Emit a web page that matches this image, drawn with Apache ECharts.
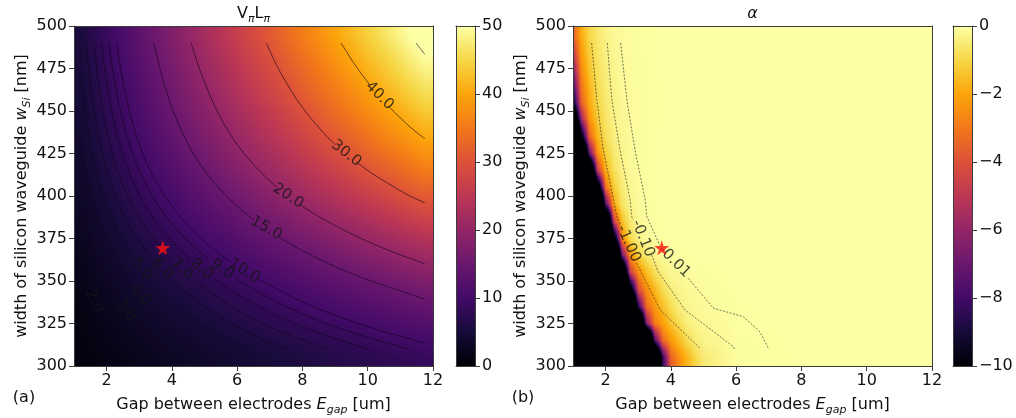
<!DOCTYPE html>
<html>
<head>
<meta charset="utf-8">
<title>VpiLpi and alpha maps</title>
<script src="https://cdn.jsdelivr.net/npm/echarts@6/dist/echarts.min.js"></script>
<style>
  html, body { margin: 0; padding: 0; background: #fff; }
  #chart { width: 1016px; height: 418px; }
</style>
</head>
<body>
<div id="chart"></div>
<script>
// electrode gap [um] where each colour row is sampled (left map)
const vlGap = [1.25, 1.75, 2.25, 2.75, 3.25, 3.75, 4.25, 4.75, 5.25, 5.75, 6.25, 6.75,
  7.25, 7.75, 8.25, 8.75, 9.25, 9.75, 10.25, 10.75, 11.25, 11.75];
// silicon width [nm], centre of each colour row
const rowWidth = [305, 315, 325, 335, 345, 355, 365, 375, 385, 395, 405, 415, 425, 435, 445, 455, 465, 475, 485, 495];

// VpiLpi, one row per width (305 nm first)
const vlRows = [
  [0.9, 1.3, 1.6, 2.0, 2.4, 2.7, 3.1, 3.5, 3.8, 4.2, 4.6, 4.9, 5.3, 5.7, 6.0, 6.4, 6.8, 7.1, 7.5, 7.8, 8.2, 8.6],
  [1.1, 1.5, 2.0, 2.4, 2.8, 3.3, 3.7, 4.1, 4.6, 5.0, 5.4, 5.9, 6.3, 6.7, 7.2, 7.6, 8.0, 8.5, 8.9, 9.4, 9.8, 10.2],
  [1.3, 1.8, 2.3, 2.8, 3.3, 3.9, 4.4, 4.9, 5.4, 5.9, 6.4, 7.0, 7.5, 8.0, 8.5, 9.0, 9.5, 10.0, 10.6, 11.1, 11.6, 12.1],
  [1.5, 2.1, 2.7, 3.3, 3.9, 4.5, 5.1, 5.7, 6.3, 6.9, 7.5, 8.1, 8.7, 9.3, 9.9, 10.5, 11.1, 11.7, 12.3, 12.9, 13.5, 14.1],
  [1.7, 2.4, 3.1, 3.8, 4.5, 5.2, 5.9, 6.6, 7.2, 7.9, 8.6, 9.3, 10.0, 10.7, 11.4, 12.1, 12.8, 13.5, 14.1, 14.8, 15.5, 16.2],
  [2.0, 2.8, 3.6, 4.4, 5.2, 6.0, 6.8, 7.6, 8.3, 9.1, 9.9, 10.7, 11.5, 12.3, 13.1, 13.9, 14.7, 15.5, 16.3, 17.1, 17.9, 18.7],
  [2.3, 3.2, 4.1, 5.0, 5.9, 6.8, 7.7, 8.6, 9.5, 10.4, 11.3, 12.2, 13.1, 14.0, 14.9, 15.8, 16.7, 17.6, 18.6, 19.5, 20.4, 21.3],
  [2.6, 3.6, 4.6, 5.6, 6.6, 7.7, 8.7, 9.7, 10.7, 11.7, 12.8, 13.8, 14.8, 15.8, 16.8, 17.9, 18.9, 19.9, 20.9, 21.9, 23.0, 24.0],
  [2.9, 4.0, 5.1, 6.3, 7.4, 8.6, 9.7, 10.8, 12.0, 13.1, 14.3, 15.4, 16.5, 17.7, 18.8, 20.0, 21.1, 22.2, 23.4, 24.5, 25.7, 26.8],
  [3.2, 4.4, 5.7, 7.0, 8.2, 9.5, 10.8, 12.0, 13.3, 14.5, 15.8, 17.1, 18.3, 19.6, 20.9, 22.1, 23.4, 24.7, 25.9, 27.2, 28.5, 29.7],
  [3.5, 4.8, 6.2, 7.6, 9.0, 10.4, 11.8, 13.2, 14.5, 15.9, 17.3, 18.7, 20.1, 21.5, 22.9, 24.2, 25.6, 27.0, 28.4, 29.8, 31.2, 32.5],
  [3.8, 5.3, 6.8, 8.3, 9.8, 11.3, 12.8, 14.3, 15.8, 17.3, 18.8, 20.3, 21.8, 23.3, 24.8, 26.3, 27.8, 29.3, 30.8, 32.3, 33.8, 35.3],
  [4.0, 5.6, 7.2, 8.9, 10.5, 12.1, 13.7, 15.3, 16.9, 18.5, 20.1, 21.7, 23.3, 25.0, 26.6, 28.2, 29.8, 31.4, 33.0, 34.6, 36.2, 37.8],
  [4.3, 6.0, 7.7, 9.4, 11.1, 12.9, 14.6, 16.3, 18.0, 19.7, 21.4, 23.2, 24.9, 26.6, 28.3, 30.0, 31.7, 33.4, 35.2, 36.9, 38.6, 40.3],
  [4.5, 6.3, 8.1, 10.0, 11.8, 13.6, 15.4, 17.2, 19.0, 20.8, 22.6, 24.4, 26.2, 28.1, 29.9, 31.7, 33.5, 35.3, 37.1, 38.9, 40.7, 42.5],
  [4.8, 6.7, 8.6, 10.5, 12.4, 14.3, 16.2, 18.1, 20.0, 21.9, 23.8, 25.7, 27.6, 29.5, 31.4, 33.3, 35.2, 37.1, 39.0, 40.9, 42.8, 44.7],
  [5.0, 6.9, 8.9, 10.9, 12.9, 14.9, 16.9, 18.9, 20.8, 22.8, 24.8, 26.8, 28.8, 30.8, 32.8, 34.7, 36.7, 38.7, 40.7, 42.7, 44.7, 46.6],
  [5.2, 7.2, 9.3, 11.4, 13.4, 15.5, 17.6, 19.6, 21.7, 23.7, 25.8, 27.9, 29.9, 32.0, 34.1, 36.1, 38.2, 40.3, 42.3, 44.4, 46.5, 48.5],
  [5.4, 7.5, 9.6, 11.8, 13.9, 16.1, 18.2, 20.3, 22.5, 24.6, 26.8, 28.9, 31.0, 33.2, 35.3, 37.5, 39.6, 41.7, 43.9, 46.0, 48.2, 50.3],
  [5.5, 7.8, 10.0, 12.2, 14.4, 16.6, 18.8, 21.0, 23.3, 25.5, 27.7, 29.9, 32.1, 34.3, 36.6, 38.8, 41.0, 43.2, 45.4, 47.6, 49.8, 52.1]
];

// electrode gap [um] where alpha is sampled (right map)
const alphaGap = [1.0, 1.25, 1.5, 1.75, 2.0, 2.25, 2.5, 2.75, 3.0, 3.25, 3.5, 3.75, 4.0, 4.25, 4.5, 4.75, 5.0, 6.0, 8.0, 12.0];
// alpha, one row per width (305 nm first)
const alphaRows = [
  [-40, -40, -40, -40, -40, -40, -40, -40, -40, -32, -20, -8.5, -3.6, -2.5, -1.7, -1.0, -0.5, -0.05, -0.01, 0],
  [-40, -40, -40, -40, -40, -40, -40, -40, -38, -24, -8.0, -3.4, -2.3, -1.6, -0.9, -0.45, -0.28, -0.04, -0.01, 0],
  [-40, -40, -40, -40, -40, -40, -40, -36, -21, -6.5, -3.0, -2.15, -1.4, -0.85, -0.42, -0.28, -0.18, -0.03, 0, 0],
  [-40, -40, -40, -40, -40, -40, -38, -23, -8.8, -3.4, -2.3, -1.5, -0.85, -0.42, -0.25, -0.16, -0.10, -0.02, 0, 0],
  [-40, -40, -40, -40, -40, -40, -29, -12.5, -4.2, -2.5, -1.7, -0.90, -0.45, -0.27, -0.16, -0.10, -0.06, -0.01, 0, 0],
  [-40, -40, -40, -40, -40, -36, -18, -4.8, -2.6, -1.6, -0.82, -0.40, -0.20, -0.12, -0.07, -0.04, -0.03, -0.01, 0, 0],
  [-40, -40, -40, -40, -40, -25, -7.4, -2.5, -1.2, -0.55, -0.25, -0.12, -0.06, -0.03, -0.02, -0.01, -0.01, 0, 0, 0],
  [-40, -40, -40, -40, -32, -12.3, -2.7, -0.93, -0.35, -0.13, -0.05, -0.03, -0.01, -0.01, -0.01, -0.01, -0.01, 0, 0, 0],
  [-40, -40, -40, -40, -21, -4.8, -1.5, -0.54, -0.19, -0.08, -0.03, -0.02, -0.01, -0.01, -0.01, -0.01, -0.01, 0, 0, 0],
  [-40, -40, -40, -26, -7.8, -2.0, -0.70, -0.27, -0.10, -0.04, -0.02, -0.01, -0.01, -0.01, -0.01, -0.01, -0.01, 0, 0, 0],
  [-40, -40, -31, -13.5, -3.2, -1.25, -0.50, -0.20, -0.09, -0.04, -0.02, -0.01, -0.01, -0.01, -0.01, -0.01, -0.01, 0, 0, 0],
  [-40, -34, -18, -5.0, -1.8, -0.78, -0.35, -0.14, -0.07, -0.03, -0.02, -0.01, -0.01, -0.01, -0.01, -0.01, -0.01, 0, 0, 0],
  [-36, -21, -7.5, -2.5, -1.2, -0.55, -0.27, -0.12, -0.06, -0.03, -0.02, -0.01, -0.01, -0.01, -0.01, -0.01, -0.01, 0, 0, 0],
  [-25, -11.1, -3.6, -1.7, -0.81, -0.40, -0.20, -0.11, -0.06, -0.03, -0.02, -0.01, -0.01, -0.01, -0.01, -0.01, -0.01, 0, 0, 0],
  [-16.5, -6.1, -2.5, -1.3, -0.66, -0.35, -0.17, -0.10, -0.06, -0.03, -0.02, -0.02, -0.01, -0.01, -0.01, -0.01, -0.01, 0, 0, 0],
  [-10, -3.7, -1.9, -1.0, -0.57, -0.32, -0.15, -0.10, -0.06, -0.03, -0.02, -0.02, -0.01, -0.01, -0.01, -0.01, -0.01, 0, 0, 0],
  [-8.0, -3.1, -1.7, -0.88, -0.49, -0.28, -0.14, -0.08, -0.05, -0.03, -0.02, -0.02, -0.01, -0.01, -0.01, -0.01, 0, 0, 0, 0],
  [-6.3, -2.6, -1.4, -0.76, -0.41, -0.24, -0.12, -0.07, -0.04, -0.03, -0.02, -0.01, -0.01, -0.01, -0.01, -0.01, 0, 0, 0, 0],
  [-4.9, -2.2, -1.2, -0.66, -0.36, -0.20, -0.11, -0.06, -0.04, -0.02, -0.02, -0.01, -0.01, -0.01, -0.01, -0.01, 0, 0, 0, 0],
  [-3.7, -1.9, -1.0, -0.57, -0.32, -0.15, -0.10, -0.06, -0.03, -0.02, -0.02, -0.01, -0.01, -0.01, -0.01, -0.01, 0, 0, 0, 0]
];

const gapTicks = [2, 4, 6, 8, 10, 12];
const designPoint = [3.72, 369.5];

// contour lines as [gap, width]; cut = where the inline label breaks the line
const cut = ['-', '-'];
const vlContours = [
  [[2.5, 310], [2.11, 320], [1.79, 330], cut, [1.43, 346], [1.35, 350], [1.25, 355]],
  [[3.75, 310], [3.16, 320], [2.91, 325], cut, [2.29, 341], [2.02, 350], [1.76, 360], [1.56, 370], [1.39, 380], [1.25, 390]],
  [[5.0, 310], [4.21, 320], [3.38, 334], cut, [2.69, 350], [2.35, 360], [2.08, 370], [1.85, 380], [1.66, 390], [1.51, 400], [1.39, 410], [1.25, 424]],
  [[6.25, 310], [5.26, 320], [4.48, 330], [3.88, 340], [3.42, 349], cut, [2.76, 365], [2.45, 375], [2.19, 385], [1.98, 395], [1.81, 405], [1.67, 415], [1.55, 425], [1.46, 435], [1.38, 445], [1.32, 455], [1.26, 465], [1.25, 467]],
  [[7.5, 310], [6.32, 320], [5.38, 330], [4.65, 340], [4.04, 350], cut, [3.36, 364], [2.94, 375], [2.63, 385], [2.37, 395], [2.17, 405], [2.0, 415], [1.86, 425], [1.75, 435], [1.66, 445], [1.58, 455], [1.51, 465], [1.45, 475], [1.40, 485], [1.38, 490]],
  [[8.75, 310], [7.37, 320], [6.28, 330], [5.43, 340], [4.71, 350], cut, [3.92, 364], [3.43, 375], [3.07, 385], [2.77, 395], [2.53, 405], [2.33, 415], [2.17, 425], [2.04, 435], [1.93, 445], [1.84, 455], [1.76, 465], [1.69, 475], [1.64, 485], [1.61, 490]],
  [[10.0, 310], [8.42, 320], [7.17, 330], [6.20, 340], [5.31, 351], cut, [4.53, 363], [3.92, 375], [3.51, 385], [3.16, 395], [2.89, 405], [2.67, 415], [2.48, 425], [2.33, 435], [2.21, 445], [2.11, 455], [2.02, 465], [1.94, 475], [1.87, 485], [1.84, 490]],
  [[11.25, 310], [9.47, 320], [8.07, 330], [6.98, 340], [5.98, 351], cut, [5.10, 363], [4.41, 375], [3.95, 385], [3.56, 395], [3.25, 405], [3.0, 415], [2.80, 425], [2.62, 435], [2.49, 445], [2.37, 455], [2.27, 465], [2.18, 475], [2.10, 485], [2.07, 490]],
  [[11.75, 313.6], [10.53, 320], [9.71, 325], [8.97, 330], [8.33, 335], [7.75, 340], [7.25, 345], [6.64, 351], cut, [5.81, 361], [5.19, 370], [4.63, 380], [4.16, 390], [3.78, 400], [3.47, 410], [3.21, 420], [3.01, 430], [2.84, 440], [2.70, 450], [2.58, 460], [2.47, 470], [2.38, 480], [2.30, 490]],
  [[11.75, 339.3], [10.87, 345], [10.10, 350], [9.43, 355], [8.82, 360], [8.29, 365], [7.79, 370], [7.27, 376], cut, [6.51, 386], [6.24, 390], [5.67, 400], [5.20, 410], [4.82, 420], [4.51, 430], [4.26, 440], [4.04, 450], [3.86, 460], [3.70, 470], [3.57, 480], [3.44, 490]],
  [[11.75, 360.1], [11.05, 365], [10.39, 370], [9.80, 375], [9.26, 380], [8.77, 385], [8.32, 390], [7.91, 395], cut, [7.22, 405], [6.67, 415], [6.21, 425], [5.83, 435], [5.52, 445], [5.26, 455], [5.04, 465], [4.84, 475], [4.67, 485], [4.59, 490]],
  [[11.75, 396], [11.29, 400], [10.83, 405], [10.40, 410], [10.0, 415], [9.65, 420], cut, [9.02, 430], [8.75, 435], [8.29, 445], [7.89, 455], [7.56, 465], [7.26, 475], [7.01, 485], [6.89, 490]],
  [[11.75, 433.8], [11.66, 435], [11.33, 440], [11.05, 445], [10.78, 450], [10.63, 453], cut, [10.08, 465], [9.88, 470], [9.69, 475], [9.51, 480], [9.35, 485], [9.18, 490]],
  [[11.75, 483.3], [11.48, 490]]
];
// [text, gap, width, rotation]
const vlLabels = [
  ['2.0', 1.61, 338, -66], ['3.0', 2.60, 333, -53], ['4.0', 3.03, 342, -50],
  ['5.0', 3.09, 357, -52], ['6.0', 3.70, 357, -47], ['7.0', 4.31, 357, -43],
  ['8.0', 4.92, 357, -39], ['9.0', 5.54, 357, -35], ['10.0', 6.22, 356, -32],
  ['15.0', 6.89, 381, -30], ['20.0', 7.56, 400, -33], ['30.0', 9.34, 425, -38],
  ['40.0', 10.36, 459, -45]
];

const alphaContours = [
  [[1.57, 490], [1.73, 456.5], [1.93, 427], [2.24, 398], [2.34, 388], [2.45, 383.2], cut, [2.95, 360.5], [3.67, 333], [4.84, 311.4], [4.9, 310]],
  [[2.05, 490], [2.19, 456.5], [2.44, 427], [2.75, 398], [2.80, 388], [2.85, 386], cut, [3.41, 365.3], [3.61, 355.5], [4.43, 333], [5.91, 311.4], [5.95, 310]],
  [[2.46, 490], [2.65, 456.5], [2.90, 427], [3.21, 398], [3.26, 388], [3.45, 380], [3.66, 371], cut, [4.53, 351.6], [5.30, 334], [6.22, 329], [6.73, 320], [7.0, 310]]
];
const alphaLabels = [
  ['-1.00', 2.70, 372, -66], ['-0.10', 3.14, 375, -68], ['-0.01', 4.10, 361.5, -45]
];

const inferno = ['#000004', '#160b39', '#420a68', '#6a176e', '#932667', '#bc3754',
  '#dd513a', '#f37819', '#fca50a', '#f6d746', '#fcffa4'];

const ink = '#111';
const frameLine = { color: '#3c3c3c', width: 1 };
const tickText = { fontSize: 16, color: ink, fontFamily: 'DejaVu Sans', margin: 7 };
const nameText = {
  fontSize: 16, color: ink, fontFamily: 'DejaVu Sans', lineHeight: 22,
  rich: {
    i: { fontStyle: 'italic', fontSize: 16, fontFamily: 'DejaVu Sans', color: ink },
    s: { fontStyle: 'italic', fontSize: 11, fontFamily: 'DejaVu Sans', color: ink, verticalAlign: 'bottom', lineHeight: 12 }
  }
};
const starPath = 'path://M50,0 L61,35 L98,35 L68,57 L79,91 L50,70 L21,91 L32,57 L2,35 L39,35 Z';

const infernoRgb = inferno.map(h => [parseInt(h.slice(1, 3), 16), parseInt(h.slice(3, 5), 16), parseInt(h.slice(5, 7), 16)]);

function colorOf(v, min, max) {
  let t = Math.max(0, Math.min(1, (v - min) / (max - min))) * (infernoRgb.length - 1);
  const i = Math.min(Math.floor(t), infernoRgb.length - 2);
  const f = t - i;
  const a = infernoRgb[i], b = infernoRgb[i + 1];
  return 'rgb(' + [0, 1, 2].map(k => Math.round(a[k] + (b[k] - a[k]) * f)).join(',') + ')';
}

// colour stops along one row, x range of the maps is 1..12 um
function rowStops(gaps, vals, min, max) {
  const stops = [];
  for (let j = 0; j < gaps.length - 1; j++) {
    for (let k = 0; k < 6; k++) {
      const f = k / 6;
      stops.push({
        offset: (gaps[j] + (gaps[j + 1] - gaps[j]) * f - 1) / 11,
        color: colorOf(vals[j] + (vals[j + 1] - vals[j]) * f, min, max)
      });
    }
  }
  const n = gaps.length - 1;
  stops.push({ offset: (gaps[n] - 1) / 11, color: colorOf(vals[n], min, max) });
  return stops;
}

// strips between neighbouring row centres: [x, wLow, wHigh, rowLow, rowHigh]
const strips = [[1, 300, rowWidth[0], 0, 0]];
for (let i = 0; i < rowWidth.length - 1; i++) strips.push([1, rowWidth[i], rowWidth[i + 1], i, i + 1]);
strips.push([1, rowWidth[rowWidth.length - 1], 500, rowWidth.length - 1, rowWidth.length - 1]);

// each strip is shaded like imshow's bilinear smoothing between its two rows
function mapRows(axis, gaps, rows, min, max) {
  return {
    type: 'custom', xAxisIndex: axis, yAxisIndex: axis, silent: true, clip: true, z: 1,
    data: strips,
    renderItem: function (params, api) {
      const w0 = api.value(1), w1 = api.value(2);
      const lo = rows[api.value(3)], hi = rows[api.value(4)];
      const n = Math.max(2, Math.round((w1 - w0) / 1.5));
      const children = [];
      for (let k = 0; k < n; k++) {
        const f = (k + 0.5) / n;
        const vals = lo.map((v, j) => v + (hi[j] - v) * f);
        const a = api.coord([1, w0 + (w1 - w0) * (k + 1) / n]);
        const b = api.coord([12, w0 + (w1 - w0) * k / n]);
        children.push({
          type: 'rect',
          shape: { x: a[0], y: a[1] - 0.4, width: b[0] - a[0], height: b[1] - a[1] + 0.8 },
          style: { fill: new echarts.graphic.LinearGradient(0, 0, 1, 0, rowStops(gaps, vals, min, max)) }
        });
      }
      return { type: 'group', children: children };
    }
  };
}

function colorBar(axis, min, max) {
  return {
    type: 'custom', xAxisIndex: axis, yAxisIndex: axis, silent: true, z: 1,
    data: [[0, min]],
    renderItem: function (params, api) {
      const a = api.coord([0, max]);
      const b = api.coord([1, min]);
      return {
        type: 'rect',
        shape: { x: a[0], y: a[1], width: b[0] - a[0], height: b[1] - a[1] },
        style: { fill: new echarts.graphic.LinearGradient(0, 1, 0, 0, inferno.map((c, i) => ({ offset: i / (inferno.length - 1), color: c }))) }
      };
    }
  };
}

function contourLines(axis, lines, lineStyle, smooth) {
  return lines.map(points => ({
    type: 'line', xAxisIndex: axis, yAxisIndex: axis, data: points, symbol: 'none',
    smooth: smooth, connectNulls: false, silent: true, z: 3, lineStyle: lineStyle
  }));
}

function contourText(axis, labels) {
  return {
    type: 'scatter', xAxisIndex: axis, yAxisIndex: axis, symbolSize: 1, silent: true, z: 4,
    itemStyle: { color: 'transparent' },
    label: { show: true, position: 'inside', color: '#151515', fontSize: 15, fontFamily: 'DejaVu Sans' },
    data: labels.map(l => ({ value: [l[1], l[2]], label: { formatter: l[0], rotate: l[3] } }))
  };
}

function star(axis) {
  return {
    type: 'scatter', xAxisIndex: axis, yAxisIndex: axis, symbol: starPath, symbolSize: 15,
    silent: true, z: 5, itemStyle: { color: '#ff1010' }, data: [designPoint]
  };
}

function gapAxis(gridIndex) {
  return {
    type: 'value', gridIndex: gridIndex, min: 1, max: 12, position: 'bottom', z: 10,
    name: 'Gap between electrodes {i|E}{s|gap} [um]', nameLocation: 'middle', nameGap: 27, nameTextStyle: nameText,
    axisLine: { show: true, onZero: false, lineStyle: frameLine },
    axisTick: { show: true, length: 5, customValues: gapTicks, lineStyle: frameLine },
    axisLabel: Object.assign({ customValues: gapTicks }, tickText),
    splitLine: { show: false }
  };
}

function widthAxis(gridIndex) {
  return {
    type: 'value', gridIndex: gridIndex, min: 300, max: 500, interval: 25, position: 'left', z: 10,
    name: 'width of silicon waveguide {i|w}{s|Si} [nm]', nameLocation: 'middle', nameGap: 41, nameTextStyle: nameText,
    axisLine: { show: true, onZero: false, lineStyle: frameLine },
    axisTick: { show: true, length: 5, lineStyle: frameLine },
    axisLabel: tickText,
    splitLine: { show: false }
  };
}

function barAxis(gridIndex, min, max, interval) {
  return {
    type: 'value', gridIndex: gridIndex, min: min, max: max, interval: interval, position: 'right', z: 10,
    axisLine: { show: true, onZero: false, lineStyle: frameLine },
    axisTick: { show: true, length: 5, lineStyle: frameLine },
    axisLabel: Object.assign({ formatter: v => (v < 0 ? '\u2212' + (-v) : String(v)) }, tickText),
    splitLine: { show: false }
  };
}

function frameAxis(gridIndex, position, min, max) {
  return {
    type: 'value', gridIndex: gridIndex, position: position, min: min, max: max, z: 10,
    axisLine: { show: true, onZero: false, lineStyle: frameLine },
    axisTick: { show: false }, axisLabel: { show: false }, splitLine: { show: false }
  };
}

function textItem(x, y, text, extra) {
  return {
    type: 'text', x: x, y: y, silent: true,
    style: Object.assign({
      text: text, font: '16px "DejaVu Sans"', fill: ink,
      textAlign: 'center', align: 'center', textVerticalAlign: 'top', verticalAlign: 'top'
    }, extra || {})
  };
}

const chart = echarts.init(document.getElementById('chart'));

const option = {
  animation: false,
  backgroundColor: '#fff',
  textStyle: { fontFamily: 'DejaVu Sans' },
  grid: [
    { left: 74, top: 26, width: 359, height: 340, outerBoundsMode: 'none' },
    { left: 456, top: 26, width: 19, height: 340, outerBoundsMode: 'none' },
    { left: 573, top: 26, width: 359, height: 340, outerBoundsMode: 'none' },
    { left: 953, top: 26, width: 19, height: 340, outerBoundsMode: 'none' }
  ],
  xAxis: [
    gapAxis(0), frameAxis(0, 'top', 1, 12),
    frameAxis(1, 'bottom', 0, 1), frameAxis(1, 'top', 0, 1),
    gapAxis(2), frameAxis(2, 'top', 1, 12),
    frameAxis(3, 'bottom', 0, 1), frameAxis(3, 'top', 0, 1)
  ],
  yAxis: [
    widthAxis(0), frameAxis(0, 'right', 300, 500),
    barAxis(1, 0, 50, 10), frameAxis(1, 'left', 0, 50),
    widthAxis(2), frameAxis(2, 'right', 300, 500),
    barAxis(3, -10, 0, 2), frameAxis(3, 'left', -10, 0)
  ],
  series: [].concat(
    mapRows(0, vlGap, vlRows, 0, 50),
    colorBar(2, 0, 50),
    contourLines(0, vlContours, { color: 'rgba(20,4,28,0.62)', width: 1 }, 0.3),
    contourText(0, vlLabels),
    star(0),
    mapRows(4, alphaGap, alphaRows, -10, 0),
    colorBar(6, -10, 0),
    contourLines(4, alphaContours, { color: 'rgba(40,40,40,0.8)', width: 0.8, type: [2, 1.5] }, false),
    contourText(4, alphaLabels),
    star(4)
  ),
  graphic: [
    textItem(253.5, 3, 'V{s|\u03c0}L{s|\u03c0}', {
      rich: { s: { fontStyle: 'italic', fontSize: 11, fontFamily: 'DejaVu Sans', fill: ink, verticalAlign: 'bottom', lineHeight: 12 } },
      lineHeight: 22
    }),
    textItem(752.5, 3, '\u03b1', { font: 'italic 16px "DejaVu Sans"', lineHeight: 22 }),
    textItem(24, 390, '(a)'),
    textItem(523, 390, '(b)')
  ]
};

chart.setOption(option);
</script>
</body>
</html>
